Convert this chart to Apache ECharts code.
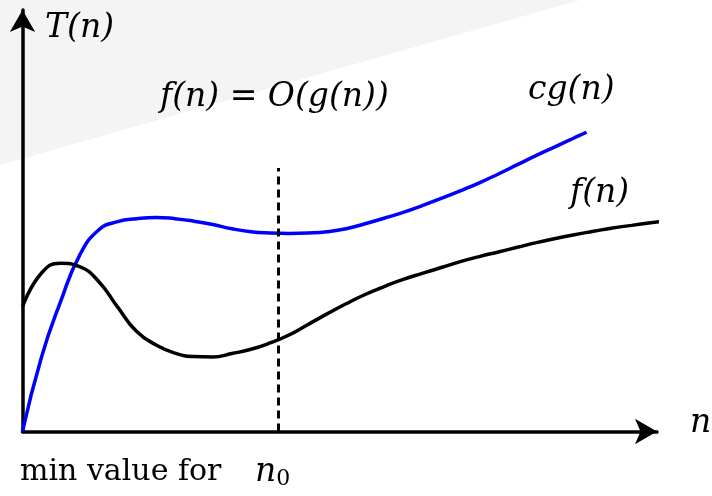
<!DOCTYPE html>
<html>
<head>
<meta charset="utf-8">
<script src="https://cdn.jsdelivr.net/npm/echarts@6/dist/echarts.min.js"></script>
<style>
  html, body { margin: 0; padding: 0; background: #fff; }
  #chart { width: 712px; height: 496px; }
</style>
</head>
<body>
<div id="chart"></div>
<script>
// n sample positions (shared by both curves)
const nValues = [
  0, 3, 6, 9, 12, 15, 18, 21, 24, 27, 30, 33, 36, 39, 42, 45, 48, 51, 54, 57,
  60, 63, 66, 69, 72, 75, 78, 81, 84, 87, 90, 93, 96, 99, 102.8
]
// f(n) values at nValues
const fValues = [
  29.6, 37.6, 39.9, 39.1, 35.6, 29.5, 23.7, 20.6, 18.6, 17.8, 17.7, 18.5,
  19.5, 21.0, 22.9, 25.4, 27.9, 30.3, 32.5, 34.4, 36.1, 37.5, 38.9, 40.3,
  41.5, 42.6, 43.7, 44.8, 45.8, 46.7, 47.5, 48.3, 48.9, 49.5, 50.2
]
// c*g(n) values at nValues (curve stops at n = 88.9)
const cgValues = [
  0, 17.7, 30.8, 41.8, 47.8, 49.8, 50.5, 50.8, 50.5, 49.9, 49.1, 48.1,
  47.4, 47.1, 47.0, 47.1, 47.4, 48.1, 49.3, 50.6, 52.0, 53.6, 55.3, 57.1,
  59.0, 61.1, 63.3, 65.5, 67.6, 69.7
]
const cgEnd = [88.9, 71.0]
// n0 marker: x position and dashed line height
const n0 = [40.35]
const n0Top = [62.5]

const mathFont = "DejaVu Serif"

const fPoints = fValues.map((v, i) => [nValues[i], v])
const cgPoints = cgValues.map((v, i) => [nValues[i], v]).concat([cgEnd])

const chart = echarts.init(document.getElementById("chart"))

const axisCommon = {
  type: "value", min: 0, max: 100,
  axisLine: {
    show: true, onZero: false,
    symbol: ["none", "arrow"], symbolSize: [19, 22],
    lineStyle: { color: "#000", width: 3.5 }
  },
  axisTick: { show: false }, axisLabel: { show: false }, splitLine: { show: false }
}

const mathText = (x, y, text) => ({
  type: "text", x: x, y: y,
  style: { text: text, fontSize: 33, fontFamily: mathFont, fontStyle: "italic", fill: "#000", verticalAlign: "middle" }
})

const option = {
  backgroundColor: "#ffffff",
  animation: false,
  grid: { left: 22.5, right: 55, top: 10, bottom: 64.5 },
  xAxis: axisCommon,
  yAxis: axisCommon,
  graphic: [
    {
      type: "polygon", z: -1, silent: true,
      shape: { points: [[0, 0], [0, 165], [580, 0]] },
      style: { fill: "#f4f4f4" }
    },
    mathText(45, 28, "T(n)"),
    mathText(160, 97, "f(n) = O(g(n))"),
    mathText(528, 90, "cg(n)"),
    mathText(570, 193, "f(n)"),
    mathText(690, 423, "n"),
    {
      type: "text", x: 20, y: 472,
      style: { text: "min value for", fontSize: 30, fontFamily: mathFont, fill: "#000", verticalAlign: "middle" }
    },
    {
      type: "text", x: 255, y: 472,
      style: {
        text: "{n|n}{s|0}",
        verticalAlign: "middle",
        rich: {
          n: { fontSize: 33, fontFamily: mathFont, fontStyle: "italic", fill: "#000" },
          s: { fontSize: 22, fontFamily: mathFont, fill: "#000", padding: [14, 0, 0, 0] }
        }
      }
    }
  ],
  series: [
    {
      name: "cg(n)", type: "line", data: cgPoints, smooth: 0.5,
      symbol: "none", clip: false,
      lineStyle: { color: "#0000ff", width: 3.5 }
    },
    {
      name: "f(n)", type: "line", data: fPoints, smooth: 0.5,
      symbol: "none", clip: false,
      lineStyle: { color: "#000000", width: 3.5 },
      markLine: {
        silent: true, symbol: ["none", "none"],
        label: { show: false },
        lineStyle: { color: "#000", width: 3, type: [8, 5] },
        data: [[{ coord: [n0[0], 0] }, { coord: [n0[0], n0Top[0]] }]]
      }
    }
  ]
}

chart.setOption(option)
window.addEventListener("resize", () => chart.resize())
</script>
</body>
</html>
